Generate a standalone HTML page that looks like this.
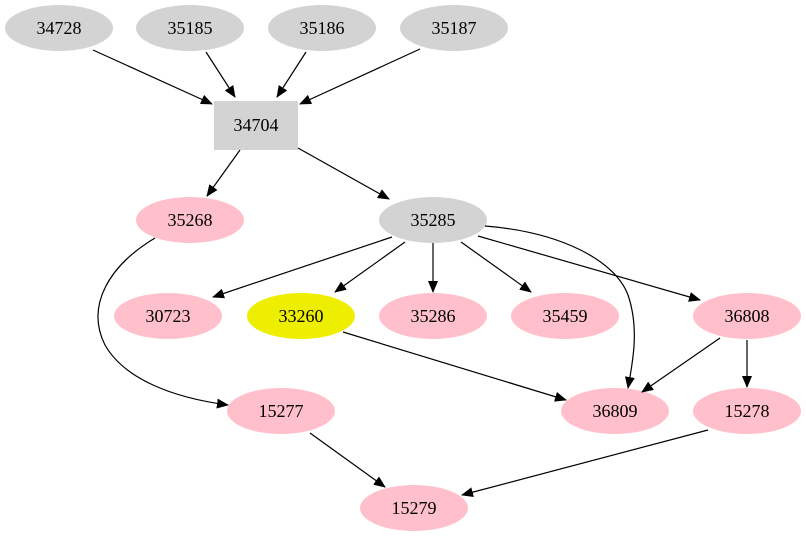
<!DOCTYPE html>
<html><head><style>body{margin:0;background:#fff}text{font-family:"Liberation Serif",serif;font-size:18px;text-anchor:middle;dominant-baseline:central;fill:#000}</style></head>
<body>
<svg width="806" height="539" xmlns="http://www.w3.org/2000/svg">
<defs><marker id="a" markerUnits="userSpaceOnUse" markerWidth="12" markerHeight="10" refX="11" refY="5" orient="auto"><path d="M0,0 L12,5 L0,10 z" fill="#000"/></marker></defs>
<g fill="#d3d3d3">
<ellipse cx="59" cy="28" rx="54" ry="23"/><ellipse cx="190" cy="28" rx="54" ry="23"/><ellipse cx="322" cy="28" rx="54" ry="23"/><ellipse cx="454" cy="28" rx="54" ry="23"/>
<rect x="214" y="101" width="84" height="49"/><ellipse cx="433" cy="220" rx="54" ry="23"/></g>
<g fill="#ffc0cb">
<ellipse cx="190" cy="220" rx="54" ry="23"/><ellipse cx="168" cy="316" rx="54" ry="23"/><ellipse cx="433" cy="316" rx="54" ry="23"/><ellipse cx="565" cy="316" rx="54" ry="23"/><ellipse cx="747" cy="316" rx="54" ry="23"/>
<ellipse cx="281" cy="411" rx="54" ry="23"/><ellipse cx="615" cy="411" rx="54" ry="23"/><ellipse cx="747" cy="411" rx="54" ry="23"/><ellipse cx="414" cy="508" rx="54" ry="23"/></g>
<ellipse cx="301" cy="316" rx="54" ry="23" fill="#eeee00"/>
<g stroke="#000" stroke-width="1.2" fill="none" marker-end="url(#a)">
<path d="M93,50 L212,104"/><path d="M206,52 L235,97"/><path d="M306,52 L277,97"/><path d="M420,49 L300,104"/>
<path d="M240,150 L207,196"/><path d="M298,148 L389,199"/>
<path d="M155,238 C110,265 85,305 105,345 C125,380 175,398 228,405"/>
<path d="M392,237 L213,297"/><path d="M405,242 L335,292"/><path d="M433,243 L433,292"/><path d="M461,242 L531,292"/><path d="M478,236 L700,300"/>
<path d="M485,226 C560,232 615,260 628,295 C640,330 632,365 628,388"/>
<path d="M343,332 L566,400"/><path d="M720,338 L642,392"/><path d="M747,340 L747,387"/>
<path d="M310,433 L385,487"/><path d="M708,430 L462,495"/>
</g>
<text x="59" y="28">34728</text><text x="190" y="28">35185</text><text x="322" y="28">35186</text><text x="454" y="28">35187</text>
<text x="256" y="125">34704</text><text x="190" y="220">35268</text><text x="433" y="220">35285</text>
<text x="168" y="316">30723</text><text x="301" y="316">33260</text><text x="433" y="316">35286</text><text x="565" y="316">35459</text><text x="747" y="316">36808</text>
<text x="281" y="411">15277</text><text x="615" y="411">36809</text><text x="747" y="411">15278</text><text x="414" y="508">15279</text>
</svg>
</body></html>
